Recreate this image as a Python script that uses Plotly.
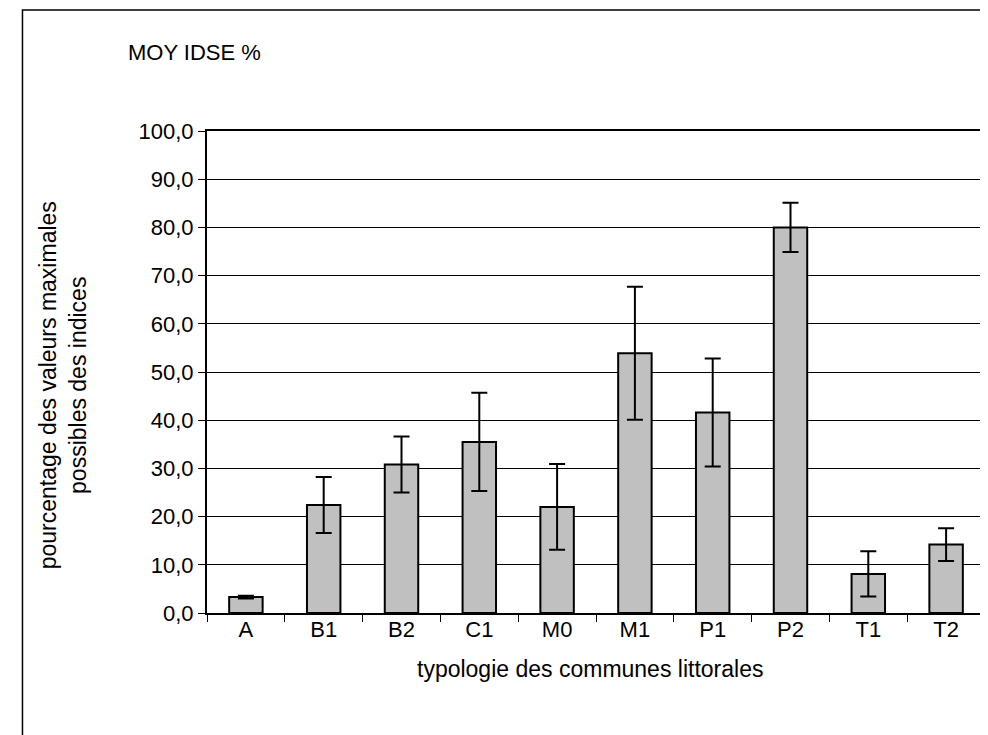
import plotly.graph_objects as go

categories = ["A", "B1", "B2", "C1", "M0", "M1", "P1", "P2", "T1", "T2"]
means = [3.3, 22.4, 30.8, 35.5, 22.0, 53.9, 41.6, 80.0, 8.1, 14.2]
errors = [0.3, 5.8, 5.8, 10.2, 8.9, 13.8, 11.2, 5.1, 4.7, 3.4]
y_ticks = [0, 10, 20, 30, 40, 50, 60, 70, 80, 90, 100]
y_tick_labels = ["0,0", "10,0", "20,0", "30,0", "40,0", "50,0", "60,0", "70,0", "80,0", "90,0", "100,0"]

FONT = "Liberation Sans, Arial, sans-serif"

# figure coordinates (page has an 8px body offset)
W, H = 980, 727
L, T, PW, PH = 199, 123, 780, 482
B = H - T - PH
R = W - L - PW

def px(x):
    return (x - 8 - L) / PW

def py(y):
    return (T + PH - (y - 8)) / PH

fig = go.Figure()
fig.add_trace(go.Bar(
    x=categories, y=means,
    marker=dict(color="#C0C0C0", line=dict(color="black", width=2)),
    error_y=dict(type="data", array=errors, visible=True, color="black", thickness=2, width=8),
    showlegend=False,
))

fig.update_layout(
    width=W, height=H,
    margin=dict(l=L, r=R, t=T, b=B),
    paper_bgcolor="white", plot_bgcolor="white",
    bargap=0.57,
    font=dict(family=FONT, size=22, color="black"),
    xaxis=dict(
        type="category", showline=True, linecolor="black", linewidth=2, mirror=True,
        ticks="outside", tickson="boundaries", ticklen=7, tickcolor="black", tickwidth=1,
        showgrid=False, tickfont=dict(size=22), ticklabelstandoff=-4,
    ),
    yaxis=dict(
        range=[0, 100], tickvals=y_ticks, ticktext=y_tick_labels,
        showline=True, linecolor="black", linewidth=2, mirror=True,
        ticks="outside", ticklen=7, tickcolor="black", tickwidth=1,
        showgrid=True, gridcolor="black", gridwidth=1, zeroline=False,
        tickfont=dict(size=22),
    ),
    shapes=[dict(type="rect", xref="paper", yref="paper",
                 x0=px(22), x1=px(1000), y0=py(760), y1=py(10),
                 line=dict(color="black", width=1.5), fillcolor="rgba(0,0,0,0)", layer="below")],
    annotations=[
        dict(text="MOY IDSE %", xref="paper", yref="paper",
             x=px(126), y=py(53), xanchor="left", yanchor="middle",
             showarrow=False, font=dict(size=22)),
        dict(text="pourcentage des valeurs maximales<br>possibles des indices", xref="paper", yref="paper",
             x=px(63), y=py(385), xanchor="center", yanchor="middle", textangle=-90,
             showarrow=False, font=dict(size=23)),
        dict(text="typologie des communes littorales", xref="paper", yref="paper",
             x=px(591), y=py(669), xanchor="center", yanchor="middle",
             showarrow=False, font=dict(size=23)),
    ],
)

fig.write_html("out.html")
